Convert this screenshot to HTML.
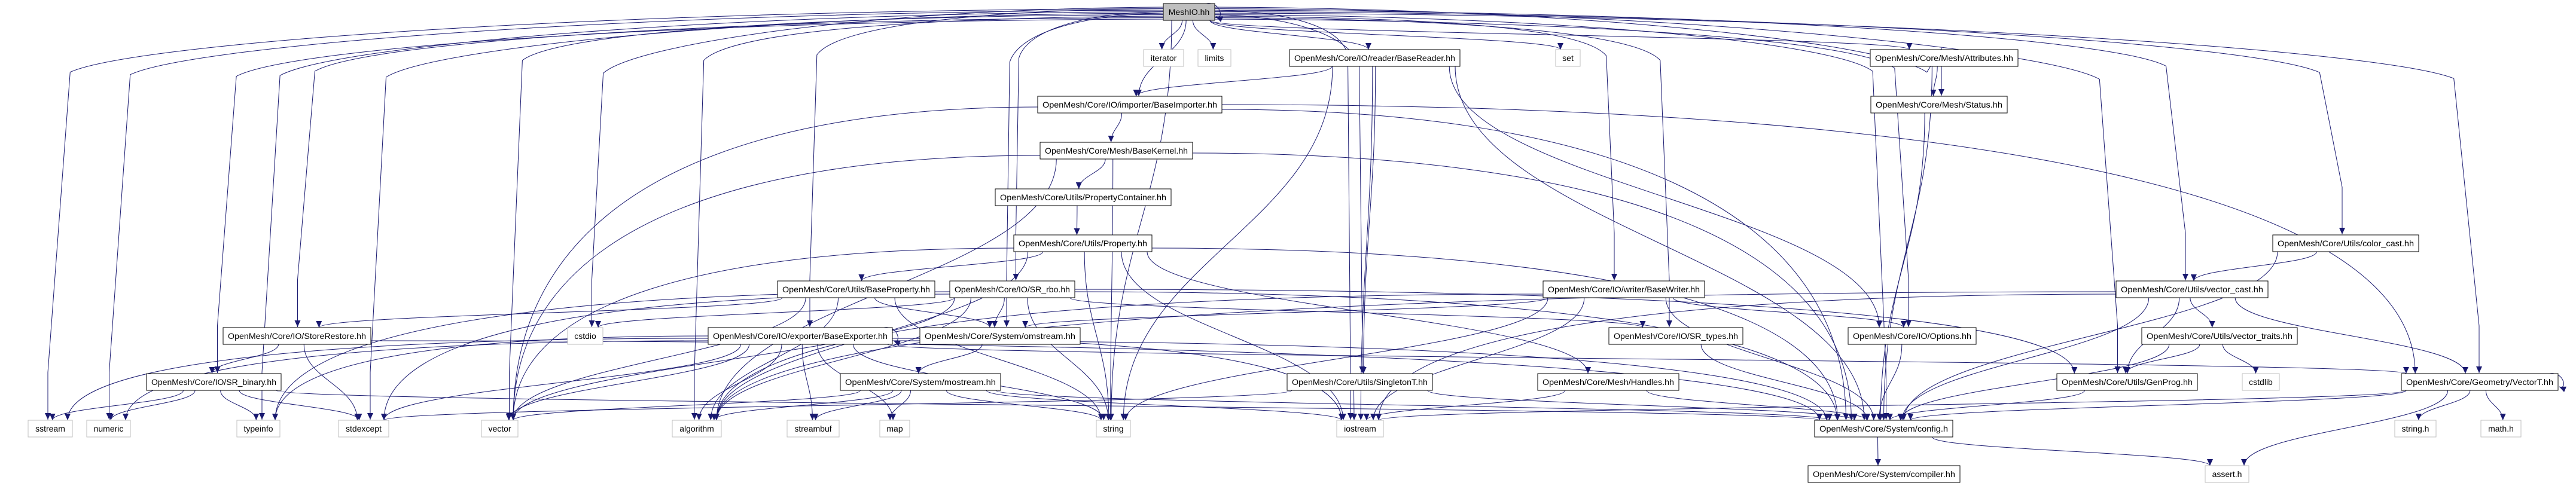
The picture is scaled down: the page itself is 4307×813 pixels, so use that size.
<!DOCTYPE html>
<html><head><meta charset="utf-8"><style>
html,body{margin:0;padding:0;background:#fff;}
svg{display:block;}
text{font-family:"Liberation Sans","DejaVu Sans",sans-serif;font-size:14px;fill:#000;}
</style></head><body>
<svg id="g" width="4307" height="813" viewBox="0 0 4307 813" xmlns="http://www.w3.org/2000/svg">
<defs><marker id="ar" markerUnits="userSpaceOnUse" markerWidth="12" markerHeight="10" refX="11" refY="5" orient="auto"><path d="M0,0 L11,5 L0,10 z" fill="#191970"/></marker></defs>
<g id="edges" fill="none" stroke="#191970" stroke-width="1"></g>
<g id="nodes">
<rect x="1945" y="6" width="86" height="28" fill="#bfbfbf" stroke="#000"/><text x="1988" y="25" text-anchor="middle">MeshIO.hh</text>
<rect x="1912" y="83" width="67" height="28" fill="#fff" stroke="#bfbfbf"/><text x="1945.5" y="102" text-anchor="middle">iterator</text>
<rect x="2003" y="83" width="55" height="28" fill="#fff" stroke="#bfbfbf"/><text x="2030.5" y="102" text-anchor="middle">limits</text>
<rect x="2156" y="83" width="285" height="28" fill="#fff" stroke="#000"/><text x="2298.5" y="102" text-anchor="middle" textLength="269" lengthAdjust="spacingAndGlyphs">OpenMesh/Core/IO/reader/BaseReader.hh</text>
<rect x="2601" y="83" width="41" height="28" fill="#fff" stroke="#bfbfbf"/><text x="2621.5" y="102" text-anchor="middle">set</text>
<rect x="3127" y="83" width="247" height="28" fill="#fff" stroke="#000"/><text x="3250.5" y="102" text-anchor="middle" textLength="231" lengthAdjust="spacingAndGlyphs">OpenMesh/Core/Mesh/Attributes.hh</text>
<rect x="1735" y="161" width="308" height="28" fill="#fff" stroke="#000"/><text x="1889" y="180" text-anchor="middle" textLength="292" lengthAdjust="spacingAndGlyphs">OpenMesh/Core/IO/importer/BaseImporter.hh</text>
<rect x="3128" y="161" width="228" height="28" fill="#fff" stroke="#000"/><text x="3242" y="180" text-anchor="middle" textLength="212" lengthAdjust="spacingAndGlyphs">OpenMesh/Core/Mesh/Status.hh</text>
<rect x="1739" y="238" width="255" height="28" fill="#fff" stroke="#000"/><text x="1866.5" y="257" text-anchor="middle" textLength="239" lengthAdjust="spacingAndGlyphs">OpenMesh/Core/Mesh/BaseKernel.hh</text>
<rect x="1664" y="316" width="294" height="28" fill="#fff" stroke="#000"/><text x="1811" y="335" text-anchor="middle" textLength="278" lengthAdjust="spacingAndGlyphs">OpenMesh/Core/Utils/PropertyContainer.hh</text>
<rect x="1695" y="393" width="231" height="28" fill="#fff" stroke="#000"/><text x="1810.5" y="412" text-anchor="middle" textLength="215" lengthAdjust="spacingAndGlyphs">OpenMesh/Core/Utils/Property.hh</text>
<rect x="3800" y="393" width="244" height="28" fill="#fff" stroke="#000"/><text x="3922" y="412" text-anchor="middle" textLength="228" lengthAdjust="spacingAndGlyphs">OpenMesh/Core/Utils/color_cast.hh</text>
<rect x="1300" y="470" width="263" height="28" fill="#fff" stroke="#000"/><text x="1431.5" y="489" text-anchor="middle" textLength="247" lengthAdjust="spacingAndGlyphs">OpenMesh/Core/Utils/BaseProperty.hh</text>
<rect x="1588" y="470" width="209" height="28" fill="#fff" stroke="#000"/><text x="1692.5" y="489" text-anchor="middle" textLength="193" lengthAdjust="spacingAndGlyphs">OpenMesh/Core/IO/SR_rbo.hh</text>
<rect x="2580" y="470" width="270" height="28" fill="#fff" stroke="#000"/><text x="2715" y="489" text-anchor="middle" textLength="254" lengthAdjust="spacingAndGlyphs">OpenMesh/Core/IO/writer/BaseWriter.hh</text>
<rect x="3538" y="470" width="254" height="28" fill="#fff" stroke="#000"/><text x="3665" y="489" text-anchor="middle" textLength="238" lengthAdjust="spacingAndGlyphs">OpenMesh/Core/Utils/vector_cast.hh</text>
<rect x="373" y="548" width="247" height="28" fill="#fff" stroke="#000"/><text x="496.5" y="567" text-anchor="middle" textLength="231" lengthAdjust="spacingAndGlyphs">OpenMesh/Core/IO/StoreRestore.hh</text>
<rect x="949" y="548" width="59" height="28" fill="#fff" stroke="#bfbfbf"/><text x="978.5" y="567" text-anchor="middle">cstdio</text>
<rect x="1184" y="548" width="308" height="28" fill="#fff" stroke="#000"/><text x="1338" y="567" text-anchor="middle" textLength="292" lengthAdjust="spacingAndGlyphs">OpenMesh/Core/IO/exporter/BaseExporter.hh</text>
<rect x="1538" y="548" width="268" height="28" fill="#fff" stroke="#000"/><text x="1672" y="567" text-anchor="middle" textLength="252" lengthAdjust="spacingAndGlyphs">OpenMesh/Core/System/omstream.hh</text>
<rect x="2690" y="548" width="224" height="28" fill="#fff" stroke="#000"/><text x="2802" y="567" text-anchor="middle" textLength="208" lengthAdjust="spacingAndGlyphs">OpenMesh/Core/IO/SR_types.hh</text>
<rect x="3090" y="548" width="214" height="28" fill="#fff" stroke="#000"/><text x="3197" y="567" text-anchor="middle" textLength="198" lengthAdjust="spacingAndGlyphs">OpenMesh/Core/IO/Options.hh</text>
<rect x="3581" y="548" width="260" height="28" fill="#fff" stroke="#000"/><text x="3711" y="567" text-anchor="middle" textLength="244" lengthAdjust="spacingAndGlyphs">OpenMesh/Core/Utils/vector_traits.hh</text>
<rect x="245" y="625" width="225" height="28" fill="#fff" stroke="#000"/><text x="357.5" y="644" text-anchor="middle" textLength="209" lengthAdjust="spacingAndGlyphs">OpenMesh/Core/IO/SR_binary.hh</text>
<rect x="1405" y="625" width="268" height="28" fill="#fff" stroke="#000"/><text x="1539" y="644" text-anchor="middle" textLength="252" lengthAdjust="spacingAndGlyphs">OpenMesh/Core/System/mostream.hh</text>
<rect x="2152" y="625" width="243" height="28" fill="#fff" stroke="#000"/><text x="2273.5" y="644" text-anchor="middle" textLength="227" lengthAdjust="spacingAndGlyphs">OpenMesh/Core/Utils/SingletonT.hh</text>
<rect x="2571" y="625" width="236" height="28" fill="#fff" stroke="#000"/><text x="2689" y="644" text-anchor="middle" textLength="220" lengthAdjust="spacingAndGlyphs">OpenMesh/Core/Mesh/Handles.hh</text>
<rect x="3439" y="625" width="235" height="28" fill="#fff" stroke="#000"/><text x="3556.5" y="644" text-anchor="middle" textLength="219" lengthAdjust="spacingAndGlyphs">OpenMesh/Core/Utils/GenProg.hh</text>
<rect x="3749" y="625" width="62" height="28" fill="#fff" stroke="#bfbfbf"/><text x="3780" y="644" text-anchor="middle">cstdlib</text>
<rect x="4015" y="625" width="262" height="28" fill="#fff" stroke="#000"/><text x="4146" y="644" text-anchor="middle" textLength="246" lengthAdjust="spacingAndGlyphs">OpenMesh/Core/Geometry/VectorT.hh</text>
<rect x="47" y="703" width="74" height="28" fill="#fff" stroke="#bfbfbf"/><text x="84" y="722" text-anchor="middle">sstream</text>
<rect x="145" y="703" width="73" height="28" fill="#fff" stroke="#bfbfbf"/><text x="181.5" y="722" text-anchor="middle">numeric</text>
<rect x="396" y="703" width="72" height="28" fill="#fff" stroke="#bfbfbf"/><text x="432" y="722" text-anchor="middle">typeinfo</text>
<rect x="566" y="703" width="84" height="28" fill="#fff" stroke="#bfbfbf"/><text x="608" y="722" text-anchor="middle">stdexcept</text>
<rect x="805" y="703" width="61" height="28" fill="#fff" stroke="#bfbfbf"/><text x="835.5" y="722" text-anchor="middle">vector</text>
<rect x="1124" y="703" width="82" height="28" fill="#fff" stroke="#bfbfbf"/><text x="1165" y="722" text-anchor="middle">algorithm</text>
<rect x="1316" y="703" width="87" height="28" fill="#fff" stroke="#bfbfbf"/><text x="1359.5" y="722" text-anchor="middle">streambuf</text>
<rect x="1471" y="703" width="50" height="28" fill="#fff" stroke="#bfbfbf"/><text x="1496" y="722" text-anchor="middle">map</text>
<rect x="1833" y="703" width="57" height="28" fill="#fff" stroke="#bfbfbf"/><text x="1861.5" y="722" text-anchor="middle">string</text>
<rect x="2235" y="703" width="78" height="28" fill="#fff" stroke="#bfbfbf"/><text x="2274" y="722" text-anchor="middle">iostream</text>
<rect x="3034" y="703" width="231" height="28" fill="#fff" stroke="#000"/><text x="3149.5" y="722" text-anchor="middle" textLength="215" lengthAdjust="spacingAndGlyphs">OpenMesh/Core/System/config.h</text>
<rect x="4004" y="703" width="69" height="28" fill="#fff" stroke="#bfbfbf"/><text x="4038.5" y="722" text-anchor="middle">string.h</text>
<rect x="4148" y="703" width="67" height="28" fill="#fff" stroke="#bfbfbf"/><text x="4181.5" y="722" text-anchor="middle">math.h</text>
<rect x="3023" y="779" width="254" height="28" fill="#fff" stroke="#000"/><text x="3150" y="798" text-anchor="middle" textLength="238" lengthAdjust="spacingAndGlyphs">OpenMesh/Core/System/compiler.hh</text>
<rect x="3687" y="779" width="73" height="28" fill="#fff" stroke="#bfbfbf"/><text x="3723.5" y="798" text-anchor="middle">assert.h</text>
</g>
</svg>
<script>
var N={
mio:[1945,2031,0],iter:[1912,1979,1],lim:[2003,2058,1],brd:[2156,2441,1],set:[2601,2642,1],att:[3127,3374,1],
bim:[1735,2043,2],sta:[3128,3356,2],bk:[1739,1994,3],pc:[1664,1958,4],pr:[1695,1926,5],cc:[3800,4044,5],
bp:[1300,1563,6],rbo:[1588,1797,6],bw:[2580,2850,6],vc:[3538,3792,6],
sr:[373,620,7],cstdio:[949,1008,7],bex:[1184,1492,7],oms:[1538,1806,7],srt:[2690,2914,7],opt:[3090,3304,7],vt:[3581,3841,7],
srb:[245,470,8],mos:[1405,1673,8],sing:[2152,2395,8],hnd:[2571,2807,8],gp:[3439,3674,8],cstdlib:[3749,3811,8],vec:[4015,4277,8],
sst:[47,121,9],num:[145,218,9],ti:[396,468,9],sx:[566,650,9],vect:[805,866,9],alg:[1124,1206,9],sb:[1316,1403,9],map:[1471,1521,9],
str:[1833,1890,9],ios:[2235,2313,9],cfg:[3034,3265,9],strh:[4004,4073,9],math:[4148,4215,9],comp:[3023,3277,10],ass:[3687,3760,10]};
var RY=[6,83,161,238,316,393,470,548,625,703,779];
var E={
mio:['sst','num','ti','sx','vect','alg','sr','srb','cstdio','bex','str','iter','lim','brd','bim','ios','set','rbo','oms','sing','bw','srt','opt','att','sta','gp','vc','cc','vec','cfg','mio'],
brd:['bim','str','ios','sing','cfg','opt'],
bim:['bk','vect','cfg','vec'],
bk:['pc','str','vect','alg','cfg'],
pc:['pr'],
pr:['bp','str','vect','alg','hnd','cfg','ios'],
bp:['sr','oms','str','vect','alg'],
rbo:['oms','cfg','srt','gp','ti','sx','cstdio','str','vect','alg'],
sr:['srb','sx','cfg'],
srb:['sst','num','ti','sx','cfg'],
bex:['bex','sst','num','ti','sx','vect','alg','sb','map','str','ios','cfg','vec'],
oms:['mos'],
mos:['map','str','ios','vect','alg','cfg','sb'],
sing:['ios','cfg','sx'],
hnd:['ios','cfg'],
bw:['oms','str','ios','cfg','opt','alg'],
srt:['cfg'],opt:['cfg'],att:['sta','cfg'],sta:['cfg'],
vc:['vt','gp','vec','cfg','alg','ios'],
vt:['gp','cstdlib','cfg'],gp:['cfg'],cc:['vc','cfg'],
vec:['vec','cfg','strh','math','ass','ios'],
cfg:['comp','ass']};
var g=document.getElementById('edges'),ns='http://www.w3.org/2000/svg';
function P(d){var p=document.createElementNS(ns,'path');p.setAttribute('d',d);p.setAttribute('marker-end','url(#ar)');g.appendChild(p);}
function cl(v,a,b){return Math.max(a+8,Math.min(b-8,v));}
var k=0;
for(var a in E){E[a].forEach(function(b,i){
 var A=N[a],B=N[b];var acx=(A[0]+A[1])/2,bcx=(B[0]+B[1])/2;var at=RY[A[2]],bt=RY[B[2]];
 var j=((i%5)-2)*5;
 if(a==b){P('M'+(A[1]-14)+','+at+' C'+(A[1]+10)+','+(at-4)+' '+(A[1]+16)+','+(at+28)+' '+(A[1]+2)+','+(at+22));return;}
 if(a=='mio'&&B[2]>=2&&Math.abs(bcx-acx)>250){
   k++;var sy=12+(k%9)*2.5;var sx=bcx<acx?A[0]:A[1];var tx=cl(bcx+(bcx<acx?6:-6)+j,B[0],B[1]);
   var cy=40+(Math.abs(bcx-acx)/2200)*40+(k%5)*6;
   P('M'+sx+','+sy+' C'+(sx+(tx-sx)*0.5)+','+(sy+2)+' '+(tx-(tx-sx)*0.08)+','+(cy-10)+' '+(tx-(tx-sx)*0.02)+','+(cy+40)+' L'+tx+','+(bt-80)+' Q'+tx+','+(bt-30)+' '+tx+','+(bt-1));return;}
 if(B[2]<=A[2]){var sx2=bcx>acx?A[1]:A[0];var tx2=bcx>acx?B[0]:B[1];var ay=at+14,by=bt+14;
   P('M'+sx2+','+ay+' C'+((sx2+tx2)/2)+','+ay+' '+((sx2+tx2)/2)+','+by+' '+tx2+','+by);return;}
 var sx=cl(acx+(bcx-acx)*0.15+j,A[0],A[1]),sy=at+28;var tx=cl(bcx+(acx-bcx)*0.05+j,B[0],B[1]),ty=bt;
 var dy=ty-sy;
 if(Math.abs(bcx-acx)>900&&B[2]-A[2]>=2){var sxs=bcx>acx?A[1]:A[0];var syy=at+14+(i%3)*4;
   P('M'+sxs+','+syy+' C'+(sxs+(tx-sxs)*0.6)+','+syy+' '+tx+','+(syy+(ty-syy)*0.3)+' '+tx+','+ty);return;}
 P('M'+sx+','+sy+' C'+sx+','+(sy+dy*0.45)+' '+tx+','+(ty-dy*0.45)+' '+tx+','+ty);
});}
</script>
</body></html>
